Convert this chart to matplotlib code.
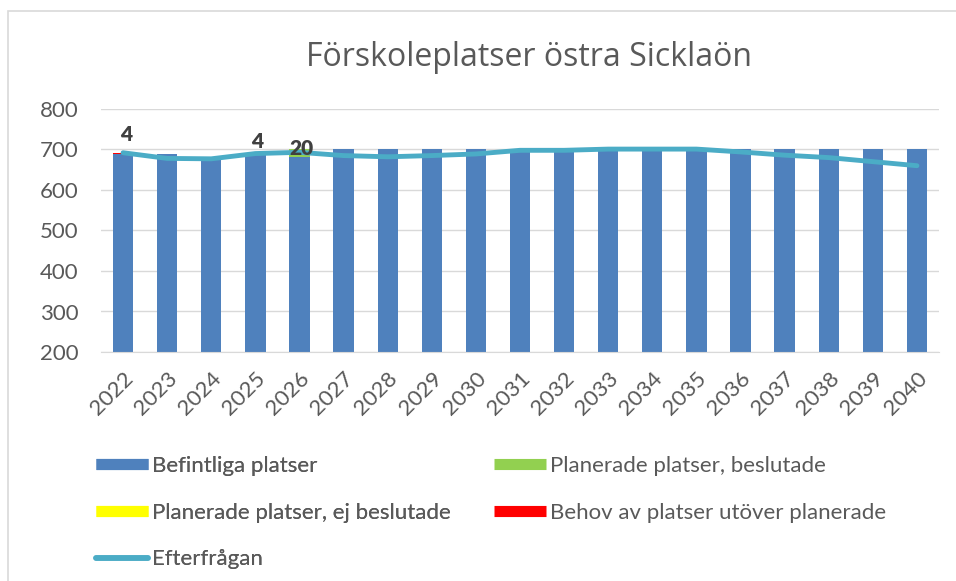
import matplotlib
matplotlib.use("Agg")
import matplotlib.pyplot as plt
from matplotlib.lines import Line2D
from matplotlib.patches import Rectangle
import numpy as np

years = [str(y) for y in range(2022, 2041)]
befintliga = [688, 688, 680, 688, 682, 700, 700, 700, 700, 700, 700, 700, 700, 700, 700, 700, 700, 700, 700]
beslutade = [0, 0, 0, 0, 20, 0, 0, 0, 0, 0, 0, 0, 0, 0, 0, 0, 0, 0, 0]
ej_beslutade = [0] * 19
behov = [4, 0, 0, 4, 0, 0, 0, 0, 0, 0, 0, 0, 0, 0, 0, 0, 0, 0, 0]
efterfragan = [692, 678, 677, 690, 693, 685, 682, 685, 689, 698, 698, 701, 701, 701, 694, 686, 680, 670, 660]

labels_series = ["Befintliga platser", "Planerade platser, beslutade",
                 "Planerade platser, ej beslutade", "Behov av platser utöver planerade",
                 "Efterfrågan"]
colors = ["#4f81bd", "#92d050", "#ffff00", "#ff0000", "#4bacc6"]

plt.rcParams['font.family'] = ['Lato', 'DejaVu Sans']
txt = "#595959"

fig = plt.figure(figsize=(9.56, 5.81), dpi=100)
fig.patches.append(Rectangle((8 / 956, -0.01), 1.0, 1 - 11 / 581 + 0.01,
                             transform=fig.transFigure, fill=False,
                             edgecolor="#d9d9d9", lw=1.2))
ax = fig.add_axes([101 / 956, 1 - 352 / 581, 838 / 956, 243 / 581])

x = np.arange(len(years))
w = 0.46
bottom = np.zeros(len(years))
for vals, c in zip([befintliga, beslutade, ej_beslutade, behov], colors[:4]):
    v = np.array(vals, dtype=float)
    ax.bar(x, v, w, bottom=bottom, color=c, zorder=2)
    bottom += v
ax.plot(x, efterfragan, color=colors[4], lw=3.5, solid_capstyle="round", zorder=3)

# data labels
lab = dict(fontsize=15, fontweight="heavy", color="#404040", ha="center", zorder=4)
ax.text(x[0] + 0.07, 722, "4", **lab)
ax.text(x[3] + 0.05, 703, "4", **lab)
ax.text(x[4] + 0.05, 687, "20", **lab)

ax.set_xlim(-0.5, len(years) - 0.5)
ax.set_ylim(200, 800)
ax.set_yticks(range(200, 801, 100))
ax.set_xticks(x)
ax.set_xticklabels(years, rotation=45, ha="right", rotation_mode="anchor")
ax.grid(axis="y", color="#d9d9d9", lw=1, zorder=0)
for s in ["top", "right", "left"]:
    ax.spines[s].set_visible(False)
ax.spines["bottom"].set_color("#d9d9d9")
ax.tick_params(axis="y", length=0, labelsize=16, colors=txt, pad=16)
ax.tick_params(axis="x", length=0, labelsize=16, colors=txt, pad=12)

fig.text(529 / 956, 1 - 57 / 581, "Förskoleplatser östra Sicklaön", fontsize=23,
         color=txt, ha="center", va="center", family=["Open Sans", "DejaVu Sans"])

handles = [Line2D([], [], color=c, lw=8, solid_capstyle="butt") for c in colors[:4]]
handles.append(Line2D([], [], color=colors[4], lw=4, solid_capstyle="round"))
common = dict(loc="upper left", frameon=False,
              prop=dict(family=["Lato", "DejaVu Sans"], size=16, weight="normal"),
              handlelength=2.35, handletextpad=0.15, labelspacing=1.2,
              labelcolor=txt, borderpad=0, borderaxespad=0)
leg1 = fig.legend([handles[0], handles[2], handles[4]],
                  [labels_series[0], labels_series[2], labels_series[4]],
                  bbox_to_anchor=(96 / 956, 1 - 456 / 581), **common)
fig.add_artist(leg1)
leg2 = fig.legend([handles[1], handles[3]],
                  [labels_series[1], labels_series[3]],
                  bbox_to_anchor=(494 / 956, 1 - 456 / 581), **common)

fig.savefig("out.png", dpi=100)
